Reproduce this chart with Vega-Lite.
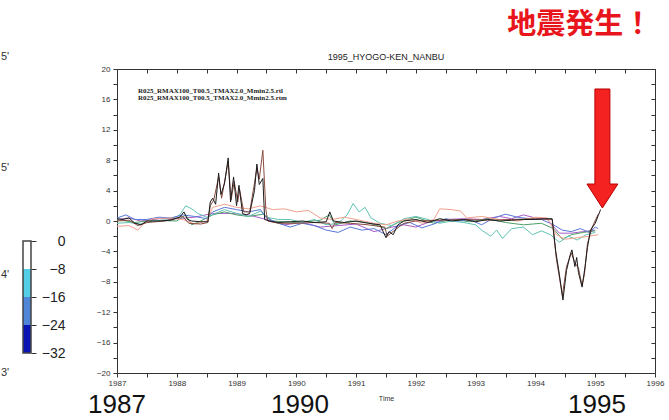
{
  "$schema": "https://vega.github.io/schema/vega-lite/v6.json",
  "autosize": "none",
  "padding": {"left": 23, "top": 69, "right": 646, "bottom": 351},
  "background": "white",
  "bounds": "flush",
  "spacing": 86,
  "resolve": {"scale": {"color": "independent", "strokeWidth": "independent"}},
  "config": {"view": {"stroke": null}, "font": "Liberation Sans"},
  "datasets": {
    "bins": [
      {"lo": -8, "hi": 0, "c": "a"},
      {"lo": -16, "hi": -8, "c": "b"},
      {"lo": -24, "hi": -16, "c": "c"},
      {"lo": -32, "hi": -24, "c": "d"}
    ],
    "frag": [
      {"v": 52.57, "txt": "5'"},
      {"v": 20.86, "txt": "5'"},
      {"v": -9.71, "txt": "4'"},
      {"v": -37.71, "txt": "3'"}
    ],
    "lines": [
      {"s":"p","t":1987.0,"v":0.2},{"s":"p","t":1987.2,"v":0.4},{"s":"p","t":1987.4,"v":0.0},{"s":"p","t":1987.7,"v":0.3},{"s":"p","t":1988.0,"v":0.3},{"s":"p","t":1988.3,"v":0.5},{"s":"p","t":1988.6,"v":1.0},{"s":"p","t":1988.9,"v":1.0},{"s":"p","t":1989.2,"v":0.8},{"s":"p","t":1989.5,"v":0.2},{"s":"p","t":1989.8,"v":-0.5},{"s":"p","t":1990.1,"v":-0.2},{"s":"p","t":1990.4,"v":-0.8},{"s":"p","t":1990.7,"v":-0.6},{"s":"p","t":1991.0,"v":-0.4},{"s":"p","t":1991.3,"v":-1.4},{"s":"p","t":1991.6,"v":-0.8},{"s":"p","t":1991.8,"v":-0.5},{"s":"p","t":1992.0,"v":-0.8},{"s":"p","t":1992.2,"v":-0.2},{"s":"p","t":1992.5,"v":0.2},{"s":"p","t":1992.8,"v":0.3},{"s":"p","t":1993.1,"v":0.2},{"s":"p","t":1993.4,"v":0.6},{"s":"p","t":1993.6,"v":0.3},{"s":"p","t":1993.8,"v":0.8},{"s":"p","t":1994.0,"v":0.4},{"s":"p","t":1994.2,"v":0.2},{"s":"p","t":1994.4,"v":-1.6},{"s":"p","t":1994.6,"v":-1.6},{"s":"p","t":1994.8,"v":-1.4},{"s":"p","t":1995.0,"v":-1.2},
      {"s":"g","t":1987.0,"v":0.2},{"s":"g","t":1987.3,"v":-0.2},{"s":"g","t":1987.6,"v":0.1},{"s":"g","t":1988.0,"v":0.0},{"s":"g","t":1988.15,"v":0.8},{"s":"g","t":1988.25,"v":-0.5},{"s":"g","t":1988.4,"v":0.0},{"s":"g","t":1988.6,"v":0.8},{"s":"g","t":1988.8,"v":1.2},{"s":"g","t":1989.0,"v":0.8},{"s":"g","t":1989.2,"v":0.6},{"s":"g","t":1989.45,"v":0.9},{"s":"g","t":1989.6,"v":0.0},{"s":"g","t":1990.0,"v":-0.2},{"s":"g","t":1990.4,"v":0.1},{"s":"g","t":1990.55,"v":0.8},{"s":"g","t":1990.65,"v":-0.5},{"s":"g","t":1990.9,"v":0.0},{"s":"g","t":1991.2,"v":-0.2},{"s":"g","t":1991.5,"v":-1.0},{"s":"g","t":1991.7,"v":-0.2},{"s":"g","t":1992.0,"v":0.5},{"s":"g","t":1992.3,"v":-0.3},{"s":"g","t":1992.6,"v":0.2},{"s":"g","t":1992.9,"v":-0.1},{"s":"g","t":1993.2,"v":0.3},{"s":"g","t":1993.5,"v":-0.2},{"s":"g","t":1993.8,"v":-0.5},{"s":"g","t":1994.1,"v":-0.3},{"s":"g","t":1994.3,"v":-1.0},{"s":"g","t":1994.45,"v":-2.4},{"s":"g","t":1994.6,"v":-1.8},{"s":"g","t":1994.8,"v":-1.5},{"s":"g","t":1995.0,"v":-1.3},
      {"s":"c","t":1987.0,"v":-0.3},{"s":"c","t":1987.2,"v":-0.2},{"s":"c","t":1987.4,"v":-0.4},{"s":"c","t":1987.6,"v":0.0},{"s":"c","t":1987.9,"v":0.2},{"s":"c","t":1988.05,"v":0.8},{"s":"c","t":1988.15,"v":2.0},{"s":"c","t":1988.25,"v":1.6},{"s":"c","t":1988.35,"v":1.0},{"s":"c","t":1988.5,"v":0.5},{"s":"c","t":1988.65,"v":1.0},{"s":"c","t":1988.8,"v":1.5},{"s":"c","t":1989.0,"v":1.0},{"s":"c","t":1989.2,"v":0.6},{"s":"c","t":1989.4,"v":1.3},{"s":"c","t":1989.5,"v":0.5},{"s":"c","t":1989.7,"v":0.2},{"s":"c","t":1989.9,"v":0.2},{"s":"c","t":1990.1,"v":-0.2},{"s":"c","t":1990.3,"v":0.2},{"s":"c","t":1990.5,"v":-0.5},{"s":"c","t":1990.7,"v":-0.3},{"s":"c","t":1990.85,"v":0.8},{"s":"c","t":1990.95,"v":2.3},{"s":"c","t":1991.05,"v":1.2},{"s":"c","t":1991.15,"v":1.8},{"s":"c","t":1991.25,"v":0.4},{"s":"c","t":1991.4,"v":-0.3},{"s":"c","t":1991.6,"v":-0.6},{"s":"c","t":1991.8,"v":0.3},{"s":"c","t":1992.0,"v":0.6},{"s":"c","t":1992.2,"v":0.2},{"s":"c","t":1992.4,"v":-0.3},{"s":"c","t":1992.6,"v":0.0},{"s":"c","t":1992.8,"v":-0.2},{"s":"c","t":1993.0,"v":-0.5},{"s":"c","t":1993.1,"v":-1.2},{"s":"c","t":1993.25,"v":-2.0},{"s":"c","t":1993.35,"v":-1.2},{"s":"c","t":1993.45,"v":-2.3},{"s":"c","t":1993.6,"v":-1.0},{"s":"c","t":1993.8,"v":-0.8},{"s":"c","t":1993.95,"v":-1.8},{"s":"c","t":1994.1,"v":-1.3},{"s":"c","t":1994.25,"v":-1.8},{"s":"c","t":1994.4,"v":-2.8},{"s":"c","t":1994.55,"v":-2.0},{"s":"c","t":1994.7,"v":-2.5},{"s":"c","t":1994.85,"v":-1.8},{"s":"c","t":1995.0,"v":-1.5},
      {"s":"u","t":1987.0,"v":0.4},{"s":"u","t":1987.15,"v":0.8},{"s":"u","t":1987.3,"v":0.2},{"s":"u","t":1987.5,"v":0.2},{"s":"u","t":1987.7,"v":0.5},{"s":"u","t":1987.9,"v":0.4},{"s":"u","t":1988.1,"v":0.8},{"s":"u","t":1988.3,"v":0.6},{"s":"u","t":1988.5,"v":0.3},{"s":"u","t":1988.6,"v":1.2},{"s":"u","t":1988.8,"v":1.8},{"s":"u","t":1989.0,"v":1.5},{"s":"u","t":1989.2,"v":1.2},{"s":"u","t":1989.4,"v":1.5},{"s":"u","t":1989.5,"v":0.4},{"s":"u","t":1989.7,"v":-0.3},{"s":"u","t":1989.9,"v":-0.8},{"s":"u","t":1990.1,"v":-0.3},{"s":"u","t":1990.3,"v":-0.6},{"s":"u","t":1990.5,"v":-1.2},{"s":"u","t":1990.7,"v":-1.5},{"s":"u","t":1990.9,"v":-0.8},{"s":"u","t":1991.1,"v":-1.2},{"s":"u","t":1991.3,"v":-1.0},{"s":"u","t":1991.5,"v":-1.8},{"s":"u","t":1991.7,"v":-0.6},{"s":"u","t":1991.9,"v":-0.2},{"s":"u","t":1992.1,"v":-0.9},{"s":"u","t":1992.3,"v":-0.4},{"s":"u","t":1992.5,"v":0.3},{"s":"u","t":1992.7,"v":0.0},{"s":"u","t":1992.9,"v":0.2},{"s":"u","t":1993.1,"v":-0.5},{"s":"u","t":1993.3,"v":0.4},{"s":"u","t":1993.5,"v":0.9},{"s":"u","t":1993.7,"v":0.5},{"s":"u","t":1993.9,"v":0.3},{"s":"u","t":1994.1,"v":0.2},{"s":"u","t":1994.3,"v":-0.5},{"s":"u","t":1994.45,"v":-1.2},{"s":"u","t":1994.6,"v":-1.4},{"s":"u","t":1994.75,"v":-1.0},{"s":"u","t":1994.9,"v":-1.5},{"s":"u","t":1995.0,"v":-0.8},{"s":"u","t":1995.05,"v":-1.0},
      {"s":"s","t":1987.0,"v":-0.7},{"s":"s","t":1987.2,"v":-0.6},{"s":"s","t":1987.35,"v":-1.2},{"s":"s","t":1987.45,"v":-0.3},{"s":"s","t":1987.6,"v":0.3},{"s":"s","t":1987.9,"v":0.4},{"s":"s","t":1988.1,"v":0.2},{"s":"s","t":1988.3,"v":-0.4},{"s":"s","t":1988.5,"v":0.0},{"s":"s","t":1988.6,"v":1.8},{"s":"s","t":1988.8,"v":2.2},{"s":"s","t":1989.0,"v":1.8},{"s":"s","t":1989.2,"v":1.6},{"s":"s","t":1989.4,"v":2.0},{"s":"s","t":1989.6,"v":1.5},{"s":"s","t":1989.8,"v":1.6},{"s":"s","t":1990.0,"v":1.2},{"s":"s","t":1990.2,"v":1.4},{"s":"s","t":1990.4,"v":0.4},{"s":"s","t":1990.6,"v":0.2},{"s":"s","t":1990.8,"v":0.5},{"s":"s","t":1991.0,"v":0.2},{"s":"s","t":1991.3,"v":-0.3},{"s":"s","t":1991.5,"v":-0.5},{"s":"s","t":1991.7,"v":0.0},{"s":"s","t":1991.9,"v":0.3},{"s":"s","t":1992.1,"v":-0.3},{"s":"s","t":1992.3,"v":0.2},{"s":"s","t":1992.4,"v":1.6},{"s":"s","t":1992.6,"v":1.5},{"s":"s","t":1992.75,"v":1.3},{"s":"s","t":1992.85,"v":0.4},{"s":"s","t":1993.1,"v":0.6},{"s":"s","t":1993.4,"v":0.2},{"s":"s","t":1993.7,"v":0.0},{"s":"s","t":1994.0,"v":0.5},{"s":"s","t":1994.2,"v":0.4},{"s":"s","t":1994.35,"v":-1.8},{"s":"s","t":1994.5,"v":-2.4},{"s":"s","t":1994.7,"v":-2.2},{"s":"s","t":1994.9,"v":-2.0},{"s":"s","t":1995.05,"v":-1.8},
      {"s":"b","t":1987.0,"v":0.0},{"s":"b","t":1987.2,"v":0.1},{"s":"b","t":1987.35,"v":-0.6},{"s":"b","t":1987.5,"v":-0.2},{"s":"b","t":1987.8,"v":0.0},{"s":"b","t":1988.1,"v":0.6},{"s":"b","t":1988.2,"v":-0.3},{"s":"b","t":1988.4,"v":-0.4},{"s":"b","t":1988.52,"v":-0.2},{"s":"b","t":1988.56,"v":2.0},{"s":"b","t":1988.62,"v":2.8},{"s":"b","t":1988.7,"v":5.8},{"s":"b","t":1988.75,"v":3.0},{"s":"b","t":1988.86,"v":7.8},{"s":"b","t":1988.91,"v":2.8},{"s":"b","t":1988.96,"v":5.2},{"s":"b","t":1989.02,"v":2.5},{"s":"b","t":1989.05,"v":4.2},{"s":"b","t":1989.12,"v":1.2},{"s":"b","t":1989.22,"v":1.2},{"s":"b","t":1989.3,"v":5.0},{"s":"b","t":1989.34,"v":7.0},{"s":"b","t":1989.38,"v":5.5},{"s":"b","t":1989.44,"v":9.3},{"s":"b","t":1989.49,"v":1.5},{"s":"b","t":1989.52,"v":0.0},{"s":"b","t":1989.7,"v":-0.3},{"s":"b","t":1990.0,"v":-0.3},{"s":"b","t":1990.3,"v":-0.2},{"s":"b","t":1990.55,"v":-0.3},{"s":"b","t":1990.6,"v":-1.0},{"s":"b","t":1990.65,"v":-0.2},{"s":"b","t":1990.9,"v":-0.3},{"s":"b","t":1991.2,"v":-0.5},{"s":"b","t":1991.48,"v":-0.8},{"s":"b","t":1991.52,"v":-2.0},{"s":"b","t":1991.6,"v":-1.5},{"s":"b","t":1991.68,"v":-1.0},{"s":"b","t":1991.8,"v":-0.3},{"s":"b","t":1992.0,"v":0.0},{"s":"b","t":1992.4,"v":0.1},{"s":"b","t":1992.8,"v":0.2},{"s":"b","t":1993.2,"v":0.1},{"s":"b","t":1993.6,"v":0.2},{"s":"b","t":1994.0,"v":0.3},{"s":"b","t":1994.28,"v":0.2},{"s":"b","t":1994.35,"v":-5.0},{"s":"b","t":1994.45,"v":-9.8},{"s":"b","t":1994.52,"v":-6.0},{"s":"b","t":1994.6,"v":-4.2},{"s":"b","t":1994.66,"v":-5.5},{"s":"b","t":1994.72,"v":-6.2},{"s":"b","t":1994.78,"v":-8.5},{"s":"b","t":1994.82,"v":-7.0},{"s":"b","t":1994.87,"v":-3.0},{"s":"b","t":1994.95,"v":-0.8},{"s":"b","t":1995.05,"v":0.9},
      {"s":"k","t":1987.0,"v":0.3},{"s":"k","t":1987.1,"v":0.2},{"s":"k","t":1987.2,"v":0.4},{"s":"k","t":1987.3,"v":-0.3},{"s":"k","t":1987.4,"v":-0.5},{"s":"k","t":1987.5,"v":0.0},{"s":"k","t":1987.7,"v":0.0},{"s":"k","t":1987.9,"v":0.1},{"s":"k","t":1988.05,"v":0.5},{"s":"k","t":1988.12,"v":1.2},{"s":"k","t":1988.18,"v":0.2},{"s":"k","t":1988.25,"v":0.0},{"s":"k","t":1988.4,"v":-0.1},{"s":"k","t":1988.52,"v":-0.1},{"s":"k","t":1988.56,"v":2.5},{"s":"k","t":1988.6,"v":3.0},{"s":"k","t":1988.65,"v":2.2},{"s":"k","t":1988.7,"v":6.3},{"s":"k","t":1988.74,"v":3.5},{"s":"k","t":1988.8,"v":5.0},{"s":"k","t":1988.86,"v":8.3},{"s":"k","t":1988.9,"v":2.5},{"s":"k","t":1988.95,"v":5.8},{"s":"k","t":1989.0,"v":2.0},{"s":"k","t":1989.04,"v":4.7},{"s":"k","t":1989.1,"v":1.0},{"s":"k","t":1989.16,"v":0.8},{"s":"k","t":1989.22,"v":1.0},{"s":"k","t":1989.26,"v":2.5},{"s":"k","t":1989.3,"v":4.0},{"s":"k","t":1989.34,"v":7.5},{"s":"k","t":1989.38,"v":4.8},{"s":"k","t":1989.44,"v":5.6},{"s":"k","t":1989.47,"v":0.2},{"s":"k","t":1989.55,"v":0.0},{"s":"k","t":1989.7,"v":-0.2},{"s":"k","t":1989.9,"v":-0.1},{"s":"k","t":1990.1,"v":0.0},{"s":"k","t":1990.3,"v":-0.2},{"s":"k","t":1990.5,"v":-0.1},{"s":"k","t":1990.56,"v":1.2},{"s":"k","t":1990.62,"v":0.0},{"s":"k","t":1990.8,"v":-0.2},{"s":"k","t":1991.0,"v":0.0},{"s":"k","t":1991.2,"v":-0.3},{"s":"k","t":1991.4,"v":-0.5},{"s":"k","t":1991.5,"v":-2.2},{"s":"k","t":1991.55,"v":-1.4},{"s":"k","t":1991.62,"v":-1.8},{"s":"k","t":1991.7,"v":-0.5},{"s":"k","t":1991.8,"v":0.0},{"s":"k","t":1992.0,"v":0.2},{"s":"k","t":1992.2,"v":-0.2},{"s":"k","t":1992.4,"v":0.3},{"s":"k","t":1992.6,"v":0.0},{"s":"k","t":1992.8,"v":0.2},{"s":"k","t":1993.0,"v":-0.1},{"s":"k","t":1993.2,"v":0.2},{"s":"k","t":1993.4,"v":0.0},{"s":"k","t":1993.6,"v":0.1},{"s":"k","t":1993.8,"v":0.2},{"s":"k","t":1994.0,"v":0.2},{"s":"k","t":1994.15,"v":0.3},{"s":"k","t":1994.28,"v":0.3},{"s":"k","t":1994.34,"v":-4.0},{"s":"k","t":1994.4,"v":-7.0},{"s":"k","t":1994.46,"v":-10.4},{"s":"k","t":1994.52,"v":-6.5},{"s":"k","t":1994.58,"v":-4.5},{"s":"k","t":1994.61,"v":-3.8},{"s":"k","t":1994.66,"v":-6.0},{"s":"k","t":1994.69,"v":-4.8},{"s":"k","t":1994.72,"v":-6.8},{"s":"k","t":1994.78,"v":-8.7},{"s":"k","t":1994.83,"v":-6.0},{"s":"k","t":1994.87,"v":-3.5},{"s":"k","t":1994.92,"v":-1.2},{"s":"k","t":1995.0,"v":-0.3},{"s":"k","t":1995.05,"v":0.7},{"s":"k","t":1995.09,"v":1.5}
    ],
    "legendText": [
      {"t": 1987.351, "v": 17.1, "txt": "R025_RMAX100_T00.5_TMAX2.0_Mmin2.5.rtl"},
      {"t": 1987.351, "v": 16.25, "txt": "R025_RMAX100_T00.5_TMAX2.0_Mmin2.5.rtm"}
    ],
    "titleText": [{"t": 1991.5, "v": 21.6, "txt": "1995_HYOGO-KEN_NANBU"}],
    "quake": [{"t": 1994.74, "v": 25.8, "txt": "地震発生！"}],
    "arrow": [{"t": 1995.12, "v": 9.54}],
    "bigYears": [
      {"t": 1987.0, "v": -25.2, "txt": "1987"},
      {"t": 1990.06, "v": -25.2, "txt": "1990"},
      {"t": 1995.03, "v": -25.2, "txt": "1995"}
    ]
  },
  "hconcat": [
    {
      "width": 8,
      "height": 304,
      "layer": [
        {
          "data": {"name": "bins"},
          "mark": {"type": "rect"},
          "encoding": {
            "x": {"datum": 0, "type": "quantitative", "scale": {"domain": [0, 1], "nice": false, "zero": false}, "axis": null},
            "x2": {"datum": 1},
            "y": {"field": "lo", "type": "quantitative", "scale": {"domain": [-37.71, 49.14], "nice": false, "zero": false},
                  "axis": {"orient": "right", "values": [0, -8, -16, -24, -32], "domain": false, "grid": false, "title": null, "tickSize": 5, "tickColor": "#333", "labelFontSize": 14, "labelAlign": "right", "labelPadding": 29, "labelColor": "#222", "labelBaseline": "middle"}},
            "y2": {"field": "hi"},
            "color": {"field": "c", "type": "nominal", "scale": {"domain": ["a", "b", "c", "d"], "range": ["#ffffff", "#52cfe6", "#4f86d8", "#0a14b4"]}, "legend": null}
          }
        },
        {
          "data": {"values": [{"lo": -32, "hi": 0}]},
          "mark": {"type": "rect", "fillOpacity": 0, "stroke": "#444", "strokeWidth": 1.5},
          "encoding": {
            "x": {"datum": 0, "type": "quantitative"},
            "x2": {"datum": 1},
            "y": {"field": "lo", "type": "quantitative"},
            "y2": {"field": "hi"}
          }
        },
        {
          "data": {"name": "frag"},
          "mark": {"type": "text", "align": "left", "baseline": "middle", "fontSize": 11, "color": "#333"},
          "encoding": {
            "x": {"datum": -2.75, "type": "quantitative"},
            "y": {"field": "v", "type": "quantitative"},
            "text": {"field": "txt"}
          }
        }
      ]
    },
    {
      "width": 538,
      "height": 304,
      "resolve": {"axis": {"x": "independent", "y": "independent"}},
      "layer": [
        {
          "data": {"name": "lines"},
          "mark": {"type": "line", "strokeJoin": "round"},
          "encoding": {
            "x": {"field": "t", "type": "quantitative", "scale": {"domain": [1987, 1996], "nice": false, "zero": false},
                  "axis": {"orient": "bottom", "values": [1987, 1987.5, 1988, 1988.5, 1989, 1989.5, 1990, 1990.5, 1991, 1991.5, 1992, 1992.5, 1993, 1993.5, 1994, 1994.5, 1995, 1995.5, 1996],
                           "labelExpr": "datum.value % 1 === 0 ? format(datum.value, 'd') : ''", "labelFlush": false, "labelOverlap": false, "grid": false,
                           "tickSize": 4, "tickColor": "#333", "domainColor": "#333", "labelFontSize": 8, "labelColor": "#333", "labelPadding": 2,
                           "title": "Time", "titleFontSize": 7, "titleFontWeight": "normal", "titleColor": "#333", "titlePadding": 7}},
            "y": {"field": "v", "type": "quantitative", "scale": {"domain": [-20, 20], "nice": false, "zero": false},
                  "axis": {"orient": "left", "values": [-20, -18, -16, -14, -12, -10, -8, -6, -4, -2, 0, 2, 4, 6, 8, 10, 12, 14, 16, 18, 20],
                           "labelExpr": "datum.value % 4 === 0 ? datum.label : ''", "labelOverlap": false, "labelFlush": false, "grid": false,
                           "tickSize": 4, "tickColor": "#333", "domainColor": "#333", "labelFontSize": 8, "labelColor": "#333", "labelPadding": 3, "title": null}},
            "color": {"field": "s", "type": "nominal", "sort": null, "scale": {"domain": ["p", "g", "c", "u", "s", "b", "k"], "range": ["#a85cc6", "#4e9e6a", "#5fc3b3", "#5a78d8", "#f2a08e", "#8a4b3f", "#1c1c1c"]}, "legend": null},
            "strokeWidth": {"field": "s", "type": "nominal", "scale": {"domain": ["p", "g", "c", "u", "s", "b", "k"], "range": [1, 1, 1, 1, 1, 1.3, 1.7]}, "legend": null}
          }
        },
        {
          "data": {"name": "legendText"},
          "mark": {"type": "text", "align": "left", "baseline": "middle", "font": "Liberation Serif", "fontWeight": "bold", "fontSize": 7, "color": "#222"},
          "encoding": {
            "x": {"field": "t", "type": "quantitative",
                  "axis": {"orient": "top", "values": [1987, 1987.5, 1988, 1988.5, 1989, 1989.5, 1990, 1990.5, 1991, 1991.5, 1992, 1992.5, 1993, 1993.5, 1994, 1994.5, 1995, 1995.5, 1996], "labels": false, "grid": false, "title": null, "tickSize": -4, "tickColor": "#333", "domainColor": "#333"}},
            "y": {"field": "v", "type": "quantitative",
                  "axis": {"orient": "right", "values": [-20, -18, -16, -14, -12, -10, -8, -6, -4, -2, 0, 2, 4, 6, 8, 10, 12, 14, 16, 18, 20], "labels": false, "grid": false, "title": null, "tickSize": -4, "tickColor": "#333", "domainColor": "#333"}},
            "text": {"field": "txt"}
          }
        },
        {
          "data": {"name": "titleText"},
          "mark": {"type": "text", "align": "center", "baseline": "middle", "font": "Liberation Sans", "fontSize": 9, "color": "#222"},
          "encoding": {
            "x": {"field": "t", "type": "quantitative", "axis": null},
            "y": {"field": "v", "type": "quantitative", "axis": null},
            "text": {"field": "txt"}
          }
        },
        {
          "data": {"name": "quake"},
          "mark": {"type": "text", "align": "center", "baseline": "middle", "font": "Noto Sans CJK JP", "fontWeight": "bold", "fontSize": 29, "color": "#e8161c"},
          "encoding": {
            "x": {"field": "t", "type": "quantitative", "axis": null},
            "y": {"field": "v", "type": "quantitative", "axis": null},
            "text": {"field": "txt"}
          }
        },
        {
          "data": {"name": "arrow"},
          "mark": {"type": "point", "filled": true, "opacity": 1, "fill": "#f52222", "stroke": "#b80000", "strokeWidth": 1,
                   "shape": "M -0.126 -1 L 0.126 -1 L 0.126 0.597 L 0.26 0.597 L 0 1 L -0.26 0.597 L -0.126 0.597 Z", "size": 14161},
          "encoding": {
            "x": {"field": "t", "type": "quantitative", "axis": null},
            "y": {"field": "v", "type": "quantitative", "axis": null}
          }
        },
        {
          "data": {"name": "bigYears"},
          "mark": {"type": "text", "align": "center", "baseline": "alphabetic", "font": "Liberation Sans", "fontSize": 26, "color": "#111"},
          "encoding": {
            "x": {"field": "t", "type": "quantitative", "axis": null},
            "y": {"field": "v", "type": "quantitative", "axis": null},
            "text": {"field": "txt"}
          }
        }
      ]
    }
  ]
}
